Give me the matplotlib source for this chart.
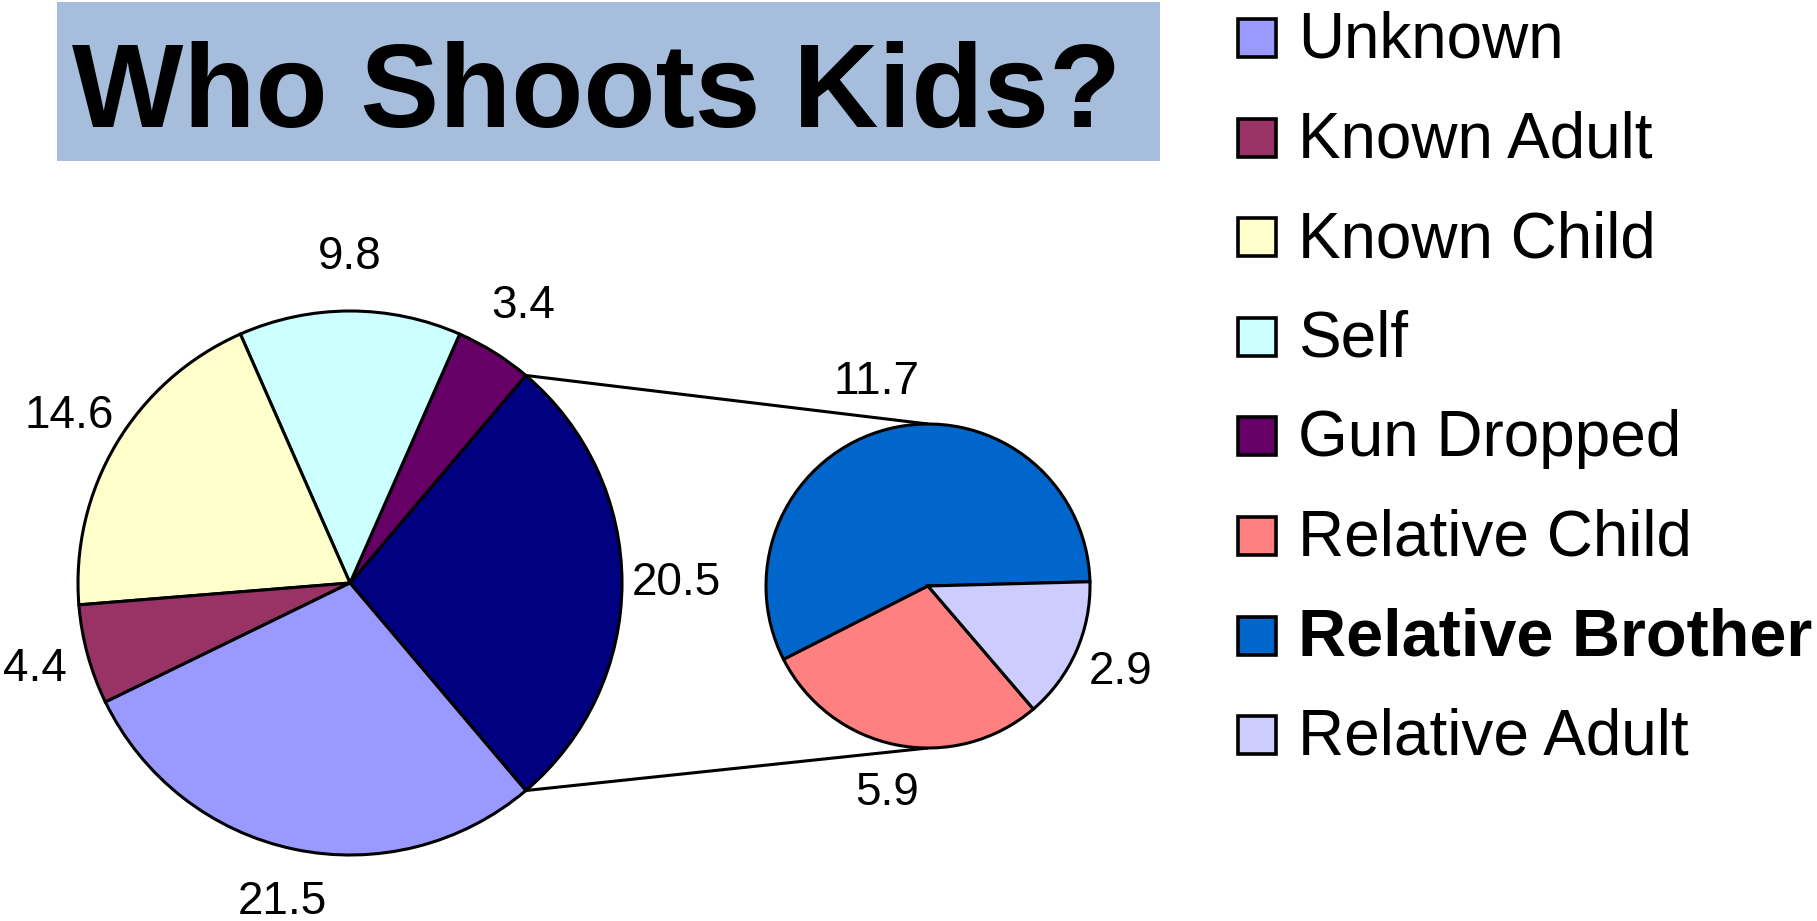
import numpy as np
import matplotlib.pyplot as plt
from matplotlib.patches import Rectangle

plt.rcParams['font.family'] = ['Liberation Sans', 'DejaVu Sans']

# main pie slices (legend order)
main_names = ['Unknown', 'Known Adult', 'Known Child', 'Self', 'Gun Dropped']
main_vals = [21.5, 4.4, 14.6, 9.8, 3.4]
main_colors = ['#9999FF', '#993366', '#FFFFCC', '#CCFFFF', '#660066']

# "Relative" slice, split out into the small pie
rel_names = ['Relative Brother', 'Relative Child', 'Relative Adult']
rel_vals = [11.7, 5.9, 2.9]
rel_colors = ['#0066CC', '#FF8080', '#CCCCFF']
rel_total_color = '#000080'

legend_names = main_names + ['Relative Child', 'Relative Brother', 'Relative Adult']
color_of = dict(zip(main_names + rel_names, main_colors + rel_colors))

W, H = 1817, 921


def py(y):
    # pixel row (from top) -> data y
    return H - y


def value_fmt(vals):
    tot = sum(vals)
    return lambda p: '%.1f' % (p * tot / 100.0)


fig = plt.figure(figsize=(W / 100, H / 100), dpi=100)
ax = fig.add_axes([0, 0, 1, 1])

edge = dict(edgecolor='black', linewidth=2.2)

# big pie, relative slice centred on the right
rel_total = sum(rel_vals)
big_vals = [rel_total] + main_vals[::-1]
big_cols = [rel_total_color] + main_colors[::-1]
half = rel_total / sum(big_vals) * 180.0
big_c = (350, py(583))
big_r = 272
ax.pie(big_vals, colors=big_cols, startangle=-half, center=big_c, radius=big_r,
       autopct=value_fmt(big_vals), pctdistance=1.2, frame=True,
       wedgeprops=edge, textprops=dict(fontsize=33))

# small pie
sm_c = (928, py(586))
sm_r = 162
ax.pie(rel_vals, colors=rel_colors, startangle=1.5, center=sm_c, radius=sm_r,
       autopct=value_fmt(rel_vals), pctdistance=1.3, frame=True,
       wedgeprops=edge, textprops=dict(fontsize=33))

# connector lines
for sgn in (1, -1):
    a = np.deg2rad(sgn * half)
    x0 = big_c[0] + big_r * np.cos(a)
    y0 = big_c[1] + big_r * np.sin(a)
    ax.plot([x0, sm_c[0]], [y0, sm_c[1] + sgn * sm_r], color='black', lw=2.2,
            solid_capstyle='butt', zorder=0)

# title box
ax.add_patch(Rectangle((57, py(161)), 1103, 159, facecolor='#A6BEDC',
                       edgecolor='none', zorder=0))
ax.text(597, py(127), 'Who Shoots Kids?', fontsize=85, fontweight='bold',
        ha='center', va='baseline')

# legend
for i, name in enumerate(legend_names):
    yc = 38.5 + i * 99.5
    bold = name == 'Relative Brother'
    ax.add_patch(Rectangle((1238, py(yc + 19)), 38, 38,
                           facecolor=color_of[name], edgecolor='black', lw=2.6))
    ax.text(1298, py(yc + 19.5), name, fontsize=48 if bold else 46,
            ha='left', va='baseline',
            fontweight='bold' if bold else 'normal')

ax.set_xlim(0, W)
ax.set_ylim(0, H)
ax.set_aspect('equal')
ax.axis('off')

fig.savefig('out.png', dpi=100)
